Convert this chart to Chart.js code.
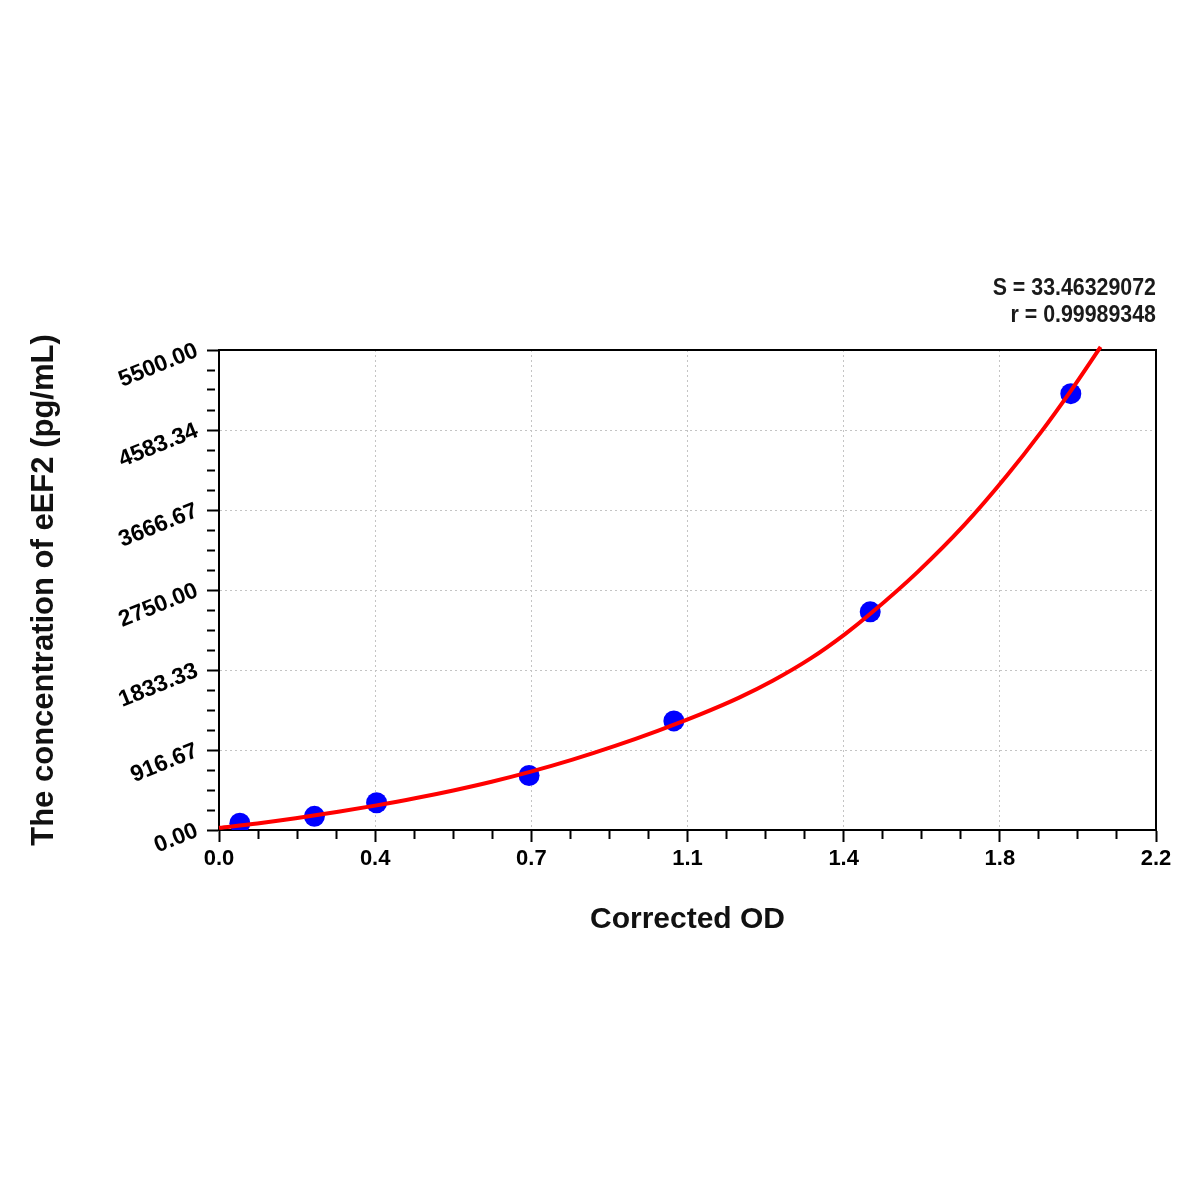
<!DOCTYPE html>
<html>
<head>
<meta charset="utf-8">
<script src="https://cdn.jsdelivr.net/npm/chart.js@4"></script>
<style>
  body { margin: 0; background: #fff; }
  #wrap { width: 1200px; height: 1200px; }
</style>
</head>
<body>
<div id="wrap"><canvas id="curve" width="1200" height="1200"></canvas></div>
<script>
// standards (blue dots)
const standardOD = [0.049, 0.224, 0.370, 0.728, 1.068, 1.529, 2.000];
const standardConc = [78.125, 156.25, 312.5, 625, 1250, 2500, 5000];

// fitted curve
const curveOD = [0.00, 0.09, 0.18, 0.28, 0.37, 0.46, 0.55, 0.64, 0.73, 0.83, 0.93, 1.03,
                 1.13, 1.22, 1.30, 1.39, 1.47, 1.53, 1.64, 1.75, 1.85, 1.93, 2.00, 2.07];
const curveConc = [25, 75, 134, 208, 282, 363, 453, 553, 666, 807, 964, 1137,
                   1325, 1514, 1710, 1969, 2245, 2480, 2955, 3495, 4061, 4559, 5032, 5536];

const xTickLabels = ["0.0", "0.4", "0.7", "1.1", "1.4", "1.8", "2.2"];
const yTickLabels = ["0.00", "916.67", "1833.33", "2750.00", "3666.67", "4583.34", "5500.00"];
const fitStats = ["S = 33.46329072", "r = 0.99989348"];

const FONT = "'Liberation Sans', Arial, sans-serif";
const SUB = 4; // minor divisions per major step

function majorMinor(max, count) {
    const out = [];
    for (let i = 0; i <= count * SUB; i++) out.push({ value: max * i / (count * SUB) });
    return out;
}

const frame = {
    id: "frame",
    beforeDatasetsDraw(chart) {
        const a = chart.chartArea, ctx = chart.ctx;
        ctx.save();
        ctx.strokeStyle = "#000";
        ctx.lineWidth = 2;
        ctx.strokeRect(a.left, a.top, a.right - a.left, a.bottom - a.top);
        ctx.restore();
    },
    afterDraw(chart) {
        const ctx = chart.ctx;
        ctx.save();
        ctx.fillStyle = "#1a1a1a";
        ctx.font = "bold 24px " + FONT;
        ctx.textAlign = "right";
        ctx.textBaseline = "alphabetic";
        const sx = 0.89;
        ctx.scale(sx, 1);
        ctx.fillText(fitStats[0], 1156 / sx, 295);
        ctx.fillText(fitStats[1], 1156 / sx, 322);
        ctx.restore();
    }
};

new Chart("curve", {
    type: "scatter",
    data: {
        datasets: [
            {
                label: "fit",
                data: curveOD.map((x, i) => ({ x: x, y: curveConc[i] })),
                showLine: true,
                borderColor: "#ff0000",
                borderWidth: 4,
                pointRadius: 0,
                cubicInterpolationMode: "monotone",
                clip: 6,
                order: 0,
            },
            {
                label: "standards",
                data: standardOD.map((x, i) => ({ x: x, y: standardConc[i] })),
                backgroundColor: "#0000ff",
                borderWidth: 0,
                pointRadius: 10.5,
                order: 1,
            },
        ],
    },
    options: {
        responsive: false,
        animation: false,
        layout: { padding: { left: 0, right: 44, top: 350, bottom: 250 } },
        plugins: {
            legend: { display: false },
            tooltip: { enabled: false },
        },
        scales: {
            x: {
                type: "linear",
                min: 0,
                max: 2.2,
                afterBuildTicks: (s) => { s.ticks = majorMinor(2.2, 6); },
                afterFit: (s) => { s.height = 120; },
                ticks: {
                    autoSkip: false,
                    maxRotation: 0,
                    padding: 4,
                    color: "#000",
                    font: { family: FONT, size: 22, weight: "bold" },
                    callback: (v, i) => (i % SUB === 0 ? xTickLabels[i / SUB] : ""),
                },
                grid: {
                    color: (c) => (c.index % SUB === 0 ? "#c4c4c4" : "rgba(0,0,0,0)"),
                    lineWidth: 1,
                    tickColor: "#000",
                    tickWidth: 2,
                    tickLength: 12,
                    tickBorderDash: (c) => (c.index % SUB === 0 ? [] : [8, 100]),
                },
                border: { display: true, color: "#000", width: 2, dash: [2, 3] },
                title: {
                    display: true,
                    text: "Corrected OD",
                    color: "#111",
                    font: { family: FONT, size: 30, weight: "bold" },
                    padding: { top: 0, bottom: 12 },
                },
            },
            y: {
                type: "linear",
                min: 0,
                max: 5500,
                afterBuildTicks: (s) => { s.ticks = majorMinor(5500, 6); },
                afterFit: (s) => { s.width = 219; },
                ticks: {
                    autoSkip: false,
                    minRotation: 22,
                    maxRotation: 22,
                    padding: 10,
                    color: "#000",
                    font: { family: FONT, size: 23, weight: "bold" },
                    callback: (v, i) => (i % SUB === 0 ? yTickLabels[i / SUB] : ""),
                },
                grid: {
                    color: (c) => (c.index % SUB === 0 ? "#c4c4c4" : "rgba(0,0,0,0)"),
                    lineWidth: 1,
                    tickColor: "#000",
                    tickWidth: 2,
                    tickLength: 12,
                    tickBorderDash: (c) => (c.index % SUB === 0 ? [] : [8, 100]),
                },
                border: { display: true, color: "#000", width: 2, dash: [2, 3] },
                title: {
                    display: true,
                    text: "The concentration of eEF2 (pg/mL)",
                    color: "#111",
                    font: { family: FONT, size: 31, weight: "bold" },
                    padding: { top: 26, bottom: 0 },
                },
            },
        },
    },
    plugins: [frame],
});
</script>
</body>
</html>
